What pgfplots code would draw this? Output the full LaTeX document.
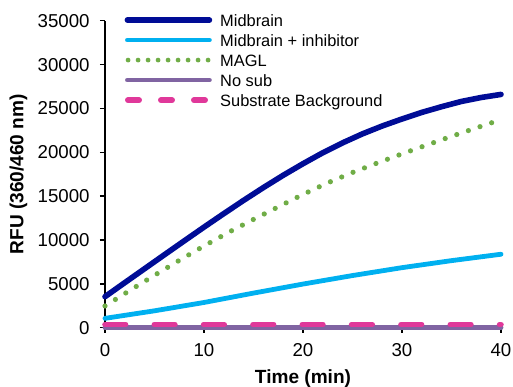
\documentclass[border=0pt]{standalone}
\usepackage{fontspec}
\setmainfont{Liberation Sans}
\usepackage{pgfplots}
\pgfplotsset{compat=1.18}
\definecolor{cMid}{RGB}{0,12,150}
\definecolor{cInh}{RGB}{0,176,240}
\definecolor{cMAGL}{RGB}{112,173,71}
\definecolor{cNo}{RGB}{128,100,162}
\definecolor{cBg}{RGB}{224,56,154}
\begin{document}
\begin{tikzpicture}
\useasboundingbox (-78.75pt,-43.7pt) rectangle (306pt,245.8pt);
\begin{axis}[
  at={(0,0)}, anchor=origin,
  width=297pt, height=230.25pt, scale only axis,
  xmin=0, xmax=40, ymin=0, ymax=35000,
  clip=false,
  axis x line*=bottom, axis y line*=left,
  axis line style={-, line width=1.1pt, black},
  every outer x axis line/.append style={-},
  every outer y axis line/.append style={-},
  tick align=outside, major tick length=3.75pt,
  tick style={black, line width=1.1pt},
  xtick={0,10,20,30,40}, ytick={0,5000,10000,15000,20000,25000,30000,35000},
  minor tick num=0,
  scaled y ticks=false,
  /pgf/number format/.cd, 1000 sep={}, assume math mode=true, /pgfplots/.cd,
  ticklabel style={font=\fontsize{14}{16}\selectfont},
  yticklabel style={xshift=-4.3pt},
  xticklabel style={yshift=-4.6pt},
  xlabel={\textbf{Time (min)}},
  ylabel={\textbf{RFU (360/460 nm)}},
  every axis x label/.style={at={(axis description cs:0.5,-0.1824)}, anchor=base, font=\fontsize{14.3}{16}\selectfont},
  every axis y label/.style={at={(axis description cs:-0.2064,0.5)}, anchor=base, rotate=90, font=\fontsize{14.3}{16}\selectfont},
  legend image code/.code={\draw[#1, line cap=round] (1.5pt,4.4pt) -- (63pt,4.4pt); \path (0pt,0pt) (69pt,0pt);},
  legend cell align=left,
  legend style={draw=none, fill=none, at={(axis description cs:0.0445,1.0156)}, anchor=north west,
    inner sep=0pt, outer sep=0pt, row sep=0pt, column sep=0pt,
    font=\fontsize{12.3}{14}\selectfont,
    nodes={inner sep=0pt, text height=8pt, text depth=7pt}},
]
\addplot[cMid, line width=4.2pt, line join=round, line cap=round] coordinates {
(0,3540) (2,5140) (4,6730) (6,8320) (8,9900) (10,11470) (12,13010) (14,14520)
(16,15980) (18,17380) (20,18700) (22,19950) (24,21080) (26,22100) (28,23000)
(30,23800) (32,24550) (34,25200) (36,25800) (38,26250) (40,26600)};
\addlegendentry{Midbrain}
\addplot[cInh, line width=3.6pt, line join=round, line cap=round] coordinates {
(0,1070) (5,1930) (10,2880) (15,3950) (20,4980) (25,5950) (30,6850) (35,7650) (40,8380)};
\addlegendentry{Midbrain + inhibitor}
\addplot[cMAGL, line width=3.9pt, line cap=round, dash pattern=on 0pt off 9.2pt,
  legend image code/.code={\draw[cMAGL, line width=3.6pt, line cap=round, dash pattern=on 0pt off 7.5pt] (2pt,4.4pt) -- (63pt,4.4pt); \path (0pt,0pt) (69pt,0pt);}] coordinates {
(0,2480) (2.5,4250) (5,5980) (7.5,7680) (10,9320) (12.5,10890) (15,12350) (17.5,13780)
(20,15200) (22.5,16520) (25,17700) (27.5,18780) (30,19820) (32.5,20830) (35,21820)
(37.5,22780) (40,23730)};
\addlegendentry{MAGL}
\addplot[cNo, line width=3.6pt, line cap=round] coordinates {(0,0) (40,0)};
\addlegendentry{No sub}
\addplot[cBg, line width=4.2pt, line cap=round, dash pattern=on 15.4pt off 21.6pt,
  legend image code/.code={\draw[cBg, line width=4.2pt, line cap=round, dash pattern=on 8.5pt off 16.25pt] (1.8pt,4.4pt) -- (63pt,4.4pt); \path (0pt,0pt) (69pt,0pt);}] coordinates {(0,370) (40,370)};
\addlegendentry{Substrate Background}
\end{axis}
\end{tikzpicture}
\end{document}
